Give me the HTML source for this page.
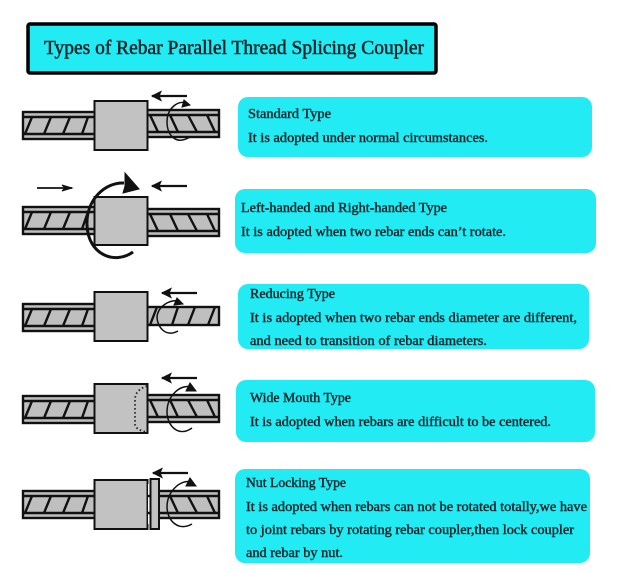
<!DOCTYPE html>
<html><head><meta charset="utf-8"><style>
html,body{margin:0;padding:0;background:#fff;width:624px;height:573px;overflow:hidden}
svg{display:block}
text{font-family:"Liberation Serif",serif;fill:#06242a;font-size:13.5px;stroke:#06242a;stroke-width:.4px}
.b{fill:#22ebf3}
.g{fill:#bfbfbf;stroke:#111;stroke-width:2.4}
.l{stroke:#111;stroke-width:2.4;fill:none}
.t{stroke:#111;stroke-width:1.5;fill:none}
.c{fill:#c2c2c2;stroke:#111;stroke-width:2}
</style></head><body>
<svg width="624" height="573" viewBox="0 0 624 573" xmlns="http://www.w3.org/2000/svg">
<defs>
<g id="lb"><rect class="g" x="23" y="0" width="72" height="27"/><path class="l" d="M23 5H95M23 22H95"/><path class="l" d="M25 22L32 5M44 22L51 5M63 22L70 5M82 22L88 5"/></g>
<g id="rb"><rect class="g" x="147" y="0" width="72" height="27"/><path class="l" d="M147 5H219M147 22H219"/><path class="l" d="M150 5L158 22M170 5L178 22M188 5L197 22M207 5L215 22"/></g>
<g id="al"><path d="M0 0H35" stroke="#111" stroke-width="2.2"/><path d="M0 0L9 -4.500L7 0L9 4.500Z" fill="#111" stroke="#111"/></g>
</defs>

<!-- title -->
<rect x="28" y="24" width="408" height="49" rx="2" fill="#22ebf3" stroke="#000" stroke-width="3.5"/>
<text x="44" y="54" style="font-size:20px;stroke-width:.5px" textLength="380" lengthAdjust="spacingAndGlyphs">Types of Rebar Parallel Thread Splicing Coupler</text>

<!-- row 1 -->
<use href="#lb" y="112"/><use href="#rb" y="110"/>
<rect class="c" x="94.500" y="101" width="53" height="49"/>
<use href="#al" x="152" y="96"/>
<path class="t" d="M190 137C175 146 167 134 167 122C167 108 178 100 187 103"/>
<path d="M190 105L182 107L184 100Z" fill="#111" stroke="#111"/>

<!-- row 2 -->
<use href="#lb" y="207"/><use href="#rb" y="209"/>
<rect class="c" x="94.500" y="197" width="53" height="48"/>
<path d="M133 252C115 265 88 255 87 225C86 200 105 182 124 183" fill="none" stroke="#111" stroke-width="3"/>
<path d="M125 173L139 189L123 193L125 186Z" fill="#111" stroke="#111"/>
<path d="M37 188H72" stroke="#111" stroke-width="1.8"/><path d="M72 188L62 185L65 188L62 191Z" fill="#111" stroke="#111"/>
<use href="#al" x="152" y="186"/>

<!-- row 3 -->
<use href="#lb" y="304"/>
<rect class="g" x="147" y="307" width="72" height="18"/>
<path class="l" d="M150 325L157 307M172 325L178 307M188 325L195 307M208 325L215 307"/>
<rect class="c" x="94.500" y="292" width="53" height="49"/>
<use href="#al" x="162" y="293"/>
<path class="t" d="M178 331C165 338 157 326 157 317C158 306 170 299 180 301"/>
<path d="M183 304L174 305L177 298Z" fill="#111" stroke="#111"/>

<!-- row 4 -->
<use href="#lb" y="396"/><use href="#rb" y="395"/>
<rect class="c" x="94.500" y="384" width="53" height="49"/>
<path d="M147 386C138 389 135 394 135 400V424C135 428 140 431 147 432" fill="none" stroke="#222" stroke-width="1.8" stroke-dasharray="1.500 2.500"/>
<use href="#al" x="162" y="378"/>
<path class="t" d="M192 428C178 438 167 425 167 412C167 396 180 384 191 387"/>
<path d="M196 391L186 391L190 383Z" fill="#111" stroke="#111"/>

<!-- row 5 -->
<use href="#lb" y="491"/><use href="#rb" y="491"/>
<rect class="c" x="94.500" y="480" width="53" height="49"/>
<rect x="148" y="484" width="2.500" height="40" fill="#fff"/>
<path class="l" d="M148 496H150M148 513H150"/>
<rect class="c" x="150.500" y="479" width="8.500" height="50"/>
<use href="#al" x="153" y="473"/>
<path class="t" d="M192 524C178 532 167 520 167 507C167 492 180 479 191 482"/>
<path d="M196 486L186 486L190 478Z" fill="#111" stroke="#111"/>

<!-- boxes -->
<rect class="b" x="238" y="97" width="354" height="60" rx="10"/>
<rect class="b" x="235" y="189" width="361" height="64" rx="10"/>
<rect class="b" x="238" y="284" width="351" height="65" rx="10"/>
<rect class="b" x="236" y="380" width="359" height="62" rx="10"/>
<rect class="b" x="235" y="469" width="355" height="94" rx="10"/>

<text x="248" y="118" textLength="83" lengthAdjust="spacingAndGlyphs">Standard Type</text>
<text x="248" y="142" textLength="240" lengthAdjust="spacingAndGlyphs">It is adopted under normal circumstances.</text>
<text x="241" y="212" textLength="206" lengthAdjust="spacingAndGlyphs">Left-handed and Right-handed Type</text>
<text x="241" y="236" textLength="265" lengthAdjust="spacingAndGlyphs">It is adopted when two rebar ends can’t rotate.</text>
<text x="250" y="298" textLength="85" lengthAdjust="spacingAndGlyphs">Reducing Type</text>
<text x="250" y="322" textLength="327" lengthAdjust="spacingAndGlyphs">It is adopted when two rebar ends diameter are different,</text>
<text x="250" y="345" textLength="237" lengthAdjust="spacingAndGlyphs">and need to transition of rebar diameters.</text>
<text x="250" y="402" textLength="101" lengthAdjust="spacingAndGlyphs">Wide Mouth Type</text>
<text x="250" y="426" textLength="301" lengthAdjust="spacingAndGlyphs">It is adopted when rebars are difficult to be centered.</text>
<text x="246" y="487" textLength="100" lengthAdjust="spacingAndGlyphs">Nut Locking Type</text>
<text x="246" y="511" textLength="341" lengthAdjust="spacingAndGlyphs">It is adopted when rebars can not be rotated totally,we have</text>
<text x="246" y="534" textLength="328" lengthAdjust="spacingAndGlyphs">to joint rebars by rotating rebar coupler,then lock coupler</text>
<text x="246" y="557" textLength="97" lengthAdjust="spacingAndGlyphs">and rebar by nut.</text>
</svg>
</body></html>
